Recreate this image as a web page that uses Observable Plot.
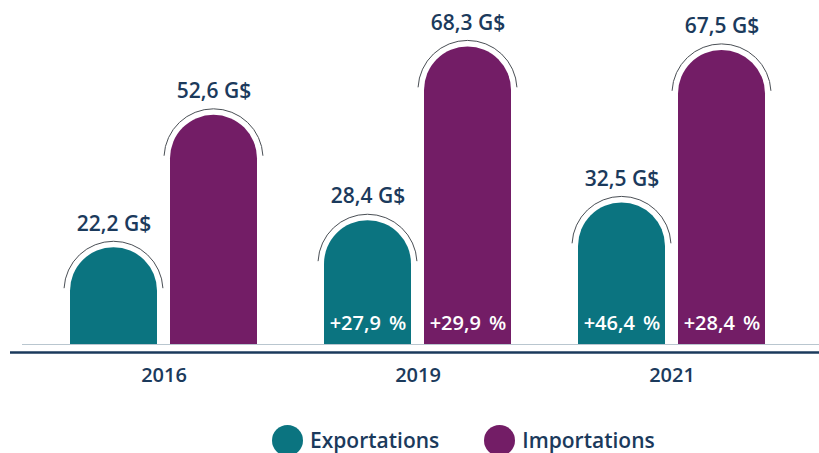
<!DOCTYPE html>
<html>
<head>
<meta charset="utf-8">
<script src="https://cdn.jsdelivr.net/npm/d3@7"></script>
<script src="https://cdn.jsdelivr.net/npm/@observablehq/plot@0.6"></script>
<style>
  html, body { margin: 0; padding: 0; background: #fff; }
  body { width: 819px; height: 453px; overflow: hidden; font-family: "Open Sans", sans-serif; }
  #chart svg text { font-weight: 600; }
  #chart svg text.pct { font-weight: 600; word-spacing: 3px; }
  #legend { display: flex; align-items: center; margin-top: 24px; padding-left: 272px; height: 32px; }
  .item { display: flex; align-items: center; margin-right: 45px; }
  .sw { width: 31px; height: 31px; border-radius: 50%; margin-right: 7px; }
  .lab { font-size: 21px; font-weight: 600; color: #1b3a5c; }
</style>
</head>
<body>
<div id="chart"></div>
<div id="legend"></div>
<script>
// ---- data ----
const years = ["2016", "2019", "2021"];
const exportations = [22.2, 28.4, 32.5];
const importations = [52.6, 68.3, 67.5];
const exportChange = ["", "+27,9 %", "+46,4 %"];
const importChange = ["", "+29,9 %", "+28,4 %"];
const seriesNames = ["Exportations", "Importations"];
const seriesColors = ["#0b7480", "#731d66"];

const ink = "#1b3a5c";
const fmt = v => v.toFixed(1).replace(".", ",") + " G$";

const expRows = years.map((year, i) => ({year, value: exportations[i], change: exportChange[i]}));
const impRows = years.map((year, i) => ({year, value: importations[i], change: importChange[i]}));

function domeBars(data, fill, shift) {
  return Plot.barY(data, {
    x: "year", y1: 0, y2: "value", fill,
    render(index, scales, values) {
      const bw = scales.x.bandwidth();
      const g = d3.create("svg:g").attr("transform", `translate(${shift},0)`);
      for (const i of index) {
        const x0 = values.x[i], yb = values.y1[i], yt = values.y2[i];
        const r = bw / 2, cx = x0 + r, cy = yt + r;
        g.append("path").attr("fill", fill)
          .attr("d", `M${x0},${yb}V${cy}A${r},${r} 0 0 1 ${x0 + bw},${cy}V${yb}Z`);
        const R = r + 6, a = 3 * Math.PI / 180;
        const sx = cx - R * Math.cos(a), sy = cy - R * Math.sin(a), ex = cx + R * Math.cos(a);
        g.append("path").attr("fill", "none").attr("stroke", "#4a4f55").attr("stroke-width", 1)
          .attr("d", `M${sx},${sy}A${R},${R} 0 0 1 ${ex},${sy}`);
      }
      return g.node();
    }
  });
}

const chart = Plot.plot({
  width: 819,
  height: 400,
  marginLeft: 10,
  marginRight: 0,
  marginTop: 39,
  marginBottom: 56,
  style: {fontFamily: "'Open Sans', sans-serif", fontSize: "20px", color: ink, background: "#fff"},
  x: {type: "band", domain: years, range: [120, 715], paddingInner: 0.6575, paddingOuter: 0, tickSize: 0, tickPadding: 23, label: null},
  y: {domain: [0, 70], axis: null},
  marks: [
    Plot.ruleY([0], {stroke: "#b9c6cf", strokeWidth: 1, insetLeft: 12}),
    Plot.ruleY([0], {stroke: ink, strokeWidth: 2.5, dy: 8}),
    domeBars(expRows, seriesColors[0], -50),
    domeBars(impRows, seriesColors[1], 50),
    Plot.text(expRows, {x: "year", y: "value", text: d => fmt(d.value), dx: -50, dy: -24, fill: ink, fontSize: 21}),
    Plot.text(impRows, {x: "year", y: "value", text: d => fmt(d.value), dx: 50, dy: -24, fill: ink, fontSize: 21}),
    Plot.text(expRows.filter(d => d.change), {x: "year", y: 0, text: "change", dx: -50, dy: -21, fill: "#fff", fontSize: 20}),
    Plot.text(impRows.filter(d => d.change), {x: "year", y: 0, text: "change", dx: 50, dy: -21, fill: "#fff", fontSize: 20})
  ]
});
d3.select(chart).selectAll("text").filter(function() {
  return /%/.test(this.textContent);
}).attr("class", "pct");
document.getElementById("chart").appendChild(chart);

const legend = d3.select("#legend");
seriesNames.forEach((name, i) => {
  const item = legend.append("div").attr("class", "item");
  item.append("div").attr("class", "sw").style("background", seriesColors[i]);
  item.append("span").attr("class", "lab").text(name);
});
</script>
</body>
</html>
